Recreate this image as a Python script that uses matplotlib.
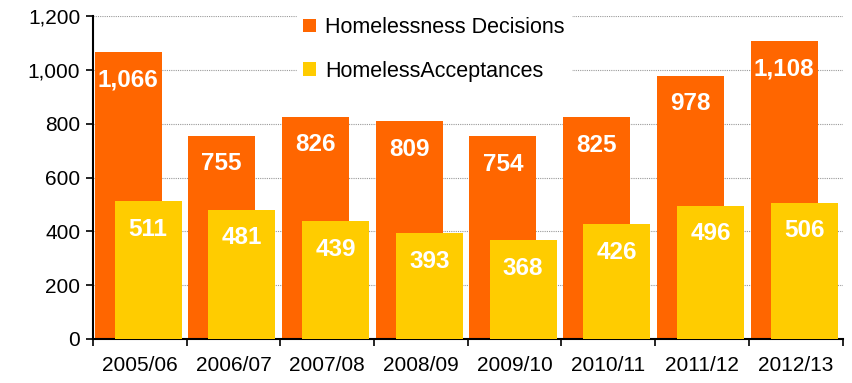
import matplotlib.pyplot as plt
import numpy as np

plt.rcParams['font.family'] = ['Liberation Sans', 'DejaVu Sans']

# data
years = ['2005/06', '2006/07', '2007/08', '2008/09',
         '2009/10', '2010/11', '2011/12', '2012/13']
decisions = [1066, 755, 826, 809, 754, 825, 978, 1108]
acceptances = [511, 481, 439, 393, 368, 426, 496, 506]

orange = '#FF6600'
yellow = '#FFCC00'

fig = plt.figure(figsize=(8.52, 3.83), dpi=100)
ax = fig.add_axes([0.109, 0.115, 0.880, 0.843])

x = np.arange(len(years))
w = 0.715
b1 = ax.bar(x - 0.125, decisions, w, color=orange, label='Homelessness Decisions', zorder=2)
b2 = ax.bar(x + 0.09, acceptances, w, color=yellow, label='HomelessAcceptances', zorder=3)

for bars, vals in ((b1, decisions), (b2, acceptances)):
    for r, v in zip(bars, vals):
        ax.annotate(f'{v:,}', (r.get_x() + r.get_width() / 2, v),
                    xytext=(0, -12), textcoords='offset points',
                    ha='center', va='top', color='white',
                    fontsize=17.5, fontweight='bold', zorder=4)

ax.set_xlim(-0.5, len(years) - 0.5)
ax.set_ylim(0, 1200)
ax.set_yticks(range(0, 1201, 200))
ax.set_yticklabels([f'{v:,}' for v in range(0, 1201, 200)])
ax.yaxis.grid(True, linestyle=(0, (1, 1)), color='#999999', linewidth=0.8, zorder=0)
ax.set_axisbelow(True)

ax.set_xticks(x)
ax.set_xticklabels(years)
ax.set_xticks(np.arange(len(years) + 1) - 0.5, minor=True)
ax.tick_params(axis='x', which='major', length=0, pad=12, labelsize=15)
ax.tick_params(axis='x', which='minor', length=5, width=1.2, direction='out')
ax.tick_params(axis='y', length=5, width=1.2, direction='out', labelsize=15, pad=4)

for s in ('top', 'right'):
    ax.spines[s].set_visible(False)
for s in ('left', 'bottom'):
    ax.spines[s].set_linewidth(1.5)

leg = ax.legend(loc='upper center', bbox_to_anchor=(0.455, 1.05), fontsize=15.5,
                frameon=True, fancybox=False, edgecolor='white', facecolor='white',
                framealpha=1, handlelength=0.6, handleheight=0.6,
                handletextpad=0.4, labelspacing=1.05, borderpad=0.3)
leg.set_zorder(5)

fig.savefig('out.png', dpi=100)
